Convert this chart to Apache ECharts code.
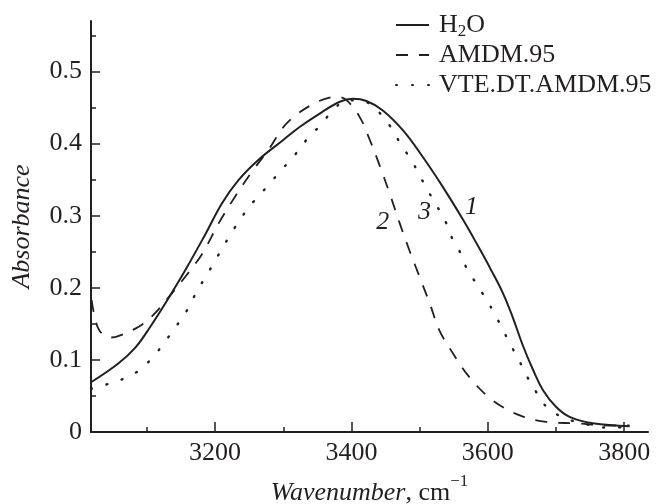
<!DOCTYPE html>
<html>
<head>
<meta charset="utf-8">
<script src="https://cdn.jsdelivr.net/npm/echarts@6/dist/echarts.min.js"></script>
<style>html,body{margin:0;padding:0;background:#fff;}#c{width:658px;height:504px;}</style>
</head>
<body>
<div id="c"></div>
<script>
// ---- data ----
var h2oX = [3018,3058,3083,3105,3128,3156,3185,3210,3234,3263,3300,3324,3354,3383,3402,3422,3446,3476,3505,3534,3564,3588,3603,3622,3637,3651,3666,3681,3700,3720,3754,3808];
var h2oY = [0.069,0.095,0.117,0.146,0.180,0.224,0.273,0.317,0.349,0.377,0.405,0.423,0.442,0.458,0.462,0.459,0.446,0.418,0.381,0.340,0.294,0.254,0.228,0.193,0.158,0.121,0.087,0.058,0.035,0.021,0.012,0.008];

var amdmX = [3019,3029,3046,3058,3088,3107,3132,3156,3181,3205,3229,3254,3278,3305,3344,3378,3393,3412,3427,3442,3456,3471,3485,3500,3515,3529,3549,3573,3607,3647,3686,3730,3778,3808];
var amdmY = [0.183,0.143,0.131,0.133,0.146,0.160,0.187,0.215,0.247,0.289,0.326,0.361,0.391,0.428,0.455,0.465,0.460,0.437,0.405,0.368,0.331,0.289,0.252,0.215,0.178,0.141,0.109,0.076,0.044,0.023,0.014,0.012,0.009,0.009];

var vteX = [3018,3041,3066,3088,3110,3127,3144,3159,3171,3184,3198,3210,3224,3239,3256,3276,3296,3315,3334,3354,3373,3393,3417,3442,3459,3473,3488,3500,3512,3525,3537,3547,3559,3568,3583,3597,3610,3622,3634,3646,3657,3670,3686,3708,3730,3754,3776,3803];
var vteY = [0.060,0.066,0.074,0.085,0.105,0.126,0.148,0.169,0.191,0.212,0.234,0.254,0.276,0.298,0.319,0.340,0.362,0.382,0.405,0.425,0.446,0.460,0.459,0.442,0.421,0.398,0.377,0.356,0.335,0.314,0.294,0.270,0.250,0.229,0.206,0.185,0.164,0.142,0.120,0.099,0.078,0.057,0.035,0.021,0.014,0.009,0.006,0.007];

var seriesNames = ['H2O', 'AMDM.95', 'VTE.DT.AMDM.95'];

var curveLabelX = [3576, 3446, 3507];
var curveLabelY = [0.312, 0.291, 0.305];
var curveLabelText = ['1', '2', '3'];

var xMajorTicks = [3200, 3400, 3600, 3800];
var xMinorTicks = [3100, 3300, 3500, 3700];
var yMajorTicks = [0, 0.1, 0.2, 0.3, 0.4, 0.5];
var yMinorTicks = [0.05, 0.15, 0.25, 0.35, 0.45, 0.55];
var xMin = 3018, xMax = 3835, yMin = 0, yMax = 0.57;

// ---- chart ----
var INK = '#231f20';
var FONT = "'Liberation Serif', 'Times New Roman', serif";
var FS = 26;
function pairs(xs, ys) { return xs.map(function (x, i) { return [x, ys[i]]; }); }

var chart = echarts.init(document.getElementById('c'), null, {renderer: 'canvas'});
var option = {
  animation: false,
  backgroundColor: '#fff',
  textStyle: {fontFamily: FONT, color: INK},
  grid: {left: 91, right: 10, top: 21, bottom: 72, containLabel: false, outerBoundsMode: 'none'},
  legend: {
    left: 395, top: 10, orient: 'vertical', padding: 0,
    itemWidth: 33, itemHeight: 10, itemGap: 0,
    data: seriesNames,
    itemStyle: {color: 'rgba(0,0,0,0)', borderColor: 'rgba(0,0,0,0)', borderWidth: 0, opacity: 0},
    formatter: function (n) { return n === 'H2O' ? 'H{sub|2}O' : n; },
    textStyle: {
      fontFamily: FONT, fontSize: FS, color: INK, lineHeight: 30, padding: [0, 0, 0, 5],
      rich: {sub: {fontFamily: FONT, fontSize: 17, color: INK, lineHeight: 30, verticalAlign: 'bottom'}}
    }
  },
  xAxis: [{
    type: 'value', min: xMin, max: xMax, position: 'bottom',
    name: '{i|Wavenumber}, cm{sup|\u22121}',
    nameLocation: 'middle', nameGap: 41,
    nameTextStyle: {
      fontFamily: FONT, fontSize: FS, color: INK, lineHeight: 40,
      rich: {
        i: {fontFamily: FONT, fontStyle: 'italic', fontSize: FS, color: INK, lineHeight: 40},
        sup: {fontFamily: FONT, fontSize: 17, color: INK, lineHeight: 40, verticalAlign: 'top'}
      }
    },
    axisLine: {show: true, lineStyle: {color: INK, width: 2}},
    axisTick: {show: true, inside: true, length: 10, customValues: xMajorTicks, lineStyle: {color: INK, width: 1.5}},
    axisLabel: {show: true, customValues: xMajorTicks, fontFamily: FONT, fontSize: FS, color: INK, margin: 8,
      formatter: function (v) { return String(v); }},
    splitLine: {show: false}
  }, {
    type: 'value', min: xMin, max: xMax, position: 'bottom',
    axisLine: {show: false},
    axisTick: {show: true, inside: true, length: 5, customValues: xMinorTicks, lineStyle: {color: INK, width: 1.5}},
    axisLabel: {show: false},
    splitLine: {show: false}
  }],
  yAxis: [{
    type: 'value', min: yMin, max: yMax, position: 'left',
    name: 'Absorbance', nameLocation: 'middle', nameGap: 56,
    nameTextStyle: {fontFamily: FONT, fontStyle: 'italic', fontSize: FS, color: INK},
    axisLine: {show: true, lineStyle: {color: INK, width: 2}},
    axisTick: {show: true, inside: true, length: 9, customValues: yMajorTicks, lineStyle: {color: INK, width: 1.5}},
    axisLabel: {show: true, customValues: yMajorTicks, fontFamily: FONT, fontSize: FS, color: INK, margin: 9,
      formatter: function (v) { return v === 0 ? '0' : String(Math.round(v * 10) / 10); }},
    splitLine: {show: false}
  }, {
    type: 'value', min: yMin, max: yMax, position: 'left',
    axisLine: {show: false},
    axisTick: {show: true, inside: true, length: 5, customValues: yMinorTicks, lineStyle: {color: INK, width: 1.5}},
    axisLabel: {show: false},
    splitLine: {show: false}
  }],
  series: [{
    name: seriesNames[0], type: 'line', data: pairs(h2oX, h2oY), smooth: 0.4, symbol: 'none',
    lineStyle: {color: INK, width: 2, type: 'solid'}, itemStyle: {color: INK}
  }, {
    name: seriesNames[1], type: 'line', data: pairs(amdmX, amdmY), smooth: 0.35, symbol: 'none',
    lineStyle: {color: INK, width: 1.8, type: [12, 11]}, itemStyle: {color: INK}
  }, {
    name: seriesNames[2], type: 'line', data: pairs(vteX, vteY), smooth: 0.35, symbol: 'none',
    lineStyle: {color: INK, width: 2.4, type: [1, 15], cap: 'round'}, itemStyle: {color: INK}
  }, {
    name: 'labels', type: 'scatter', symbolSize: 0, silent: true,
    itemStyle: {opacity: 1, color: INK},
    data: curveLabelX.map(function (x, i) { return [x, curveLabelY[i], curveLabelText[i]]; }),
    label: {show: true, position: 'inside', formatter: function (p) { return p.value[2]; },
      fontFamily: FONT, fontStyle: 'italic', fontSize: FS, color: INK, opacity: 1}
  }]
};
chart.setOption(option);
</script>
</body>
</html>
